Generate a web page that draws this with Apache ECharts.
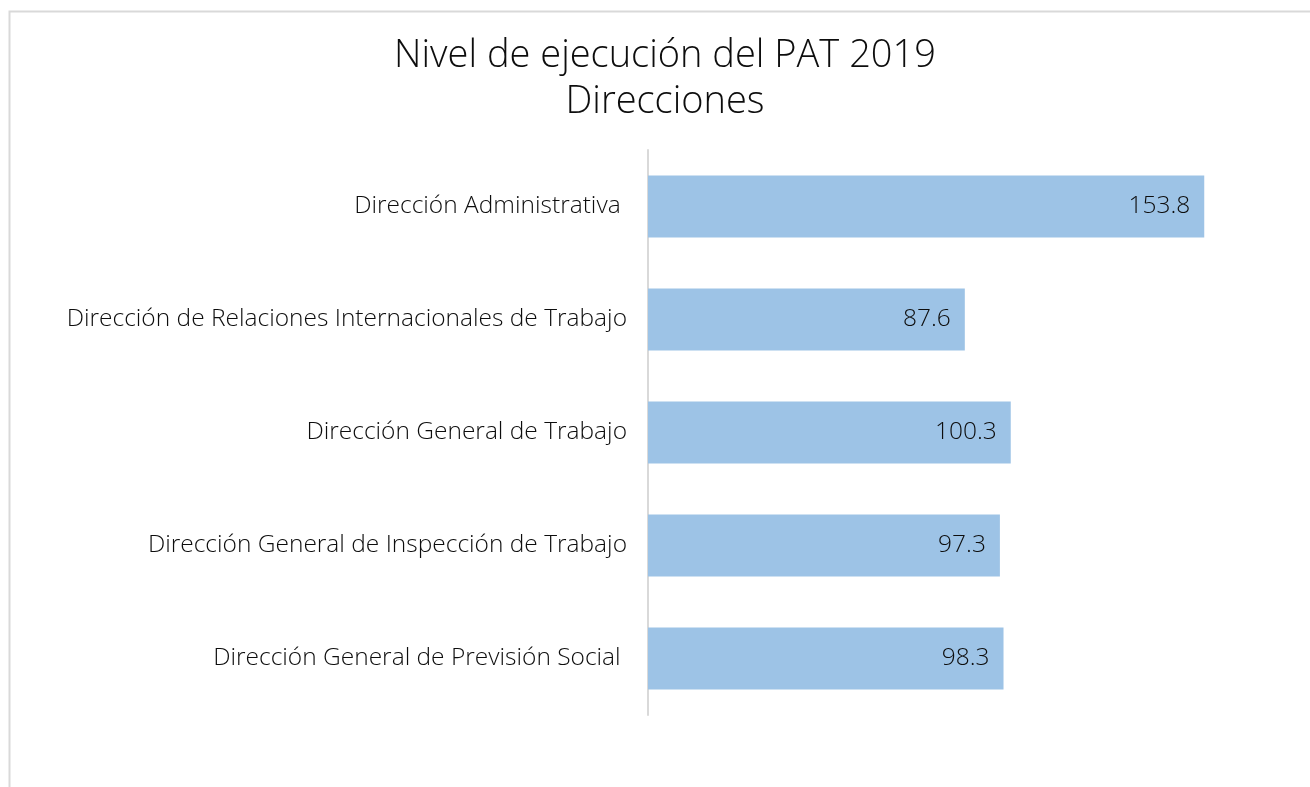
<!DOCTYPE html>
<html>
<head>
<meta charset="utf-8">
<script src="https://cdn.jsdelivr.net/npm/echarts@6/dist/echarts.min.js"></script>
<style>
  html, body { margin: 0; padding: 0; background: #fff; }
  #chart { width: 1310px; height: 787px; }
</style>
</head>
<body>
<div id="chart"></div>
<script>
// categories listed bottom to top (category axis starts at the bottom)
var direcciones = [
  'Dirección General de Previsión Social ',
  'Dirección General de Inspección de Trabajo',
  'Dirección General de Trabajo',
  'Dirección de Relaciones Internacionales de Trabajo',
  'Dirección Administrativa '
];
var ejecucion = [98.3, 97.3, 100.3, 87.6, 153.8];

var myChart = echarts.init(document.getElementById('chart'), null, { renderer: 'canvas' });
var fuente = 'Open Sans';

var option = {
  backgroundColor: '#ffffff',
  animation: false,
  title: {
    text: 'Nivel de ejecución del PAT 2019\nDirecciones',
    left: 660,
    top: 28,
    textAlign: 'center',
    textStyle: {
      fontFamily: fuente,
      fontSize: 38,
      fontWeight: 300,
      color: '#0d0d0d',
      lineHeight: 46
    }
  },
  // thin frame around the chart area
  graphic: [{
    type: 'rect',
    shape: { x: 9.5, y: 11.5, width: 1400, height: 900 },
    style: { fill: 'none', stroke: '#d9d9d9', lineWidth: 2 },
    silent: true
  }],
  grid: {
    left: 648,
    right: 11,
    top: 150,
    bottom: 72
  },
  xAxis: {
    type: 'value',
    min: 0,
    max: 180,
    show: false
  },
  yAxis: {
    type: 'category',
    data: direcciones,
    axisLine: { show: true, lineStyle: { color: '#d9d9d9', width: 2 } },
    axisTick: { show: false },
    splitLine: { show: false },
    axisLabel: {
      fontFamily: fuente,
      fontSize: 24.5,
      fontWeight: 300,
      color: '#0d0d0d',
      margin: 21
    }
  },
  series: [{
    type: 'bar',
    data: ejecucion,
    barCategoryGap: '45%',
    itemStyle: { color: '#9dc3e6' },
    label: {
      show: true,
      position: 'insideRight',
      distance: 14,
      fontFamily: fuente,
      fontSize: 24.5,
      fontWeight: 300,
      color: '#0d0d0d',
      formatter: function (p) { return p.value.toFixed(1); }
    }
  }]
};

myChart.setOption(option);
</script>
</body>
</html>
